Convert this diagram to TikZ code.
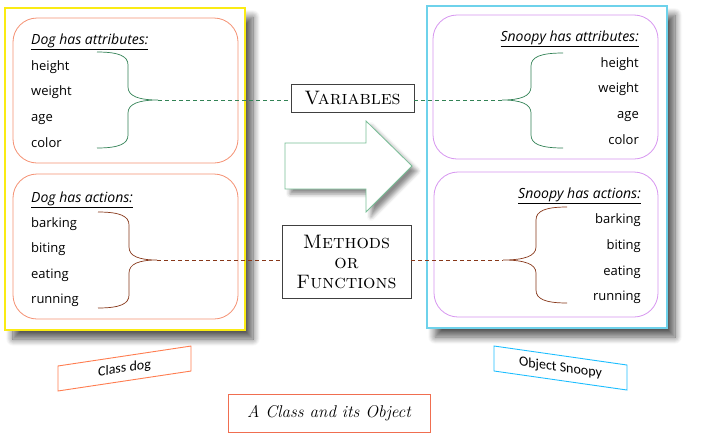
\documentclass[tikz,border=0pt]{standalone}
\usepackage{fontspec}
\newfontfamily\itemfont{Open Sans}
\newfontfamily\tagfont{Carlito}
\usetikzlibrary{shadows.blur}

\definecolor{classyellow}{RGB}{250,235,20}
\definecolor{objcyan}{RGB}{110,210,235}
\definecolor{dogorange}{RGB}{245,145,115}
\definecolor{snoopyviolet}{RGB}{215,150,240}
\definecolor{attrgreen}{RGB}{50,130,85}
\definecolor{actbrown}{RGB}{135,55,25}
\definecolor{arrowgreen}{RGB}{120,190,150}
\definecolor{tagorange}{RGB}{255,125,80}
\definecolor{tagcyan}{RGB}{30,190,255}
\definecolor{titleorange}{RGB}{240,110,80}

\tikzset{
  shadowed/.style={blur shadow={shadow xshift=8pt, shadow yshift=-9pt, shadow blur radius=7pt, shadow blur steps=10, shadow opacity=65}},
  bigframe/.style={draw, fill=white, line width=1.3pt, minimum width=240pt, minimum height=322pt, shadowed},
  listbox/.style={draw, rounded corners=24pt, line width=0.8pt, minimum width=225pt, minimum height=145pt},
  item/.style={inner sep=0pt, font=\itemfont\fontsize{13}{15}\selectfont},
  head/.style={inner sep=0pt, font=\itemfont\itshape\fontsize{14}{16}\selectfont},
  namebox/.style={draw=black!75, line width=0.8pt, fill=white, font=\fontsize{19.5}{22}\selectfont},
  tagbox/.style={draw, line width=0.9pt, minimum width=133pt, minimum height=25pt, inner sep=0pt, font=\tagfont\fontsize{14}{16}\selectfont},
  attrdash/.style={attrgreen, dash pattern=on 4pt off 3pt, line width=0.6pt},
  actdash/.style={actbrown, dash pattern=on 4pt off 3pt, line width=0.6pt},
}

% style, end x, bend x, tip x, top y, tip y, bottom y
\newcommand\curlybrace[7]{%
  \draw[#1] (#2,#5) .. controls ({#2+0.7*(#3-#2)},#5) and (#3,{#5+4}) .. (#3,{#5+13})
    -- (#3,{#6-13}) .. controls (#3,{#6-4}) and ({#3+0.35*(#4-#3)},#6) .. (#4,#6)
    .. controls ({#3+0.35*(#4-#3)},#6) and (#3,{#6+4}) .. (#3,{#6+13})
    -- (#3,{#7-13}) .. controls (#3,{#7-4}) and ({#2+0.7*(#3-#2)},#7) .. (#2,#7);}

\begin{document}
\begin{tikzpicture}[x=1pt,y=-1pt]
        \useasboundingbox (0,0) rectangle (708,434);

        %the class and the object
        \node[bigframe, draw=classyellow] (classframe) at (125,169) {};
        \node[bigframe, draw=objcyan] (objframe) at (547,167) {};

        %the big arrow between them
        \filldraw[draw=arrowgreen, fill=white, line width=0.8pt, blur shadow={shadow xshift=5pt, shadow yshift=-5pt, shadow blur radius=4pt, shadow opacity=45}] (285,143) -- (366,143) -- (366,121) -- (412,166) -- (366,212) -- (366,189) -- (285,189) -- cycle;

        %boxes of the class
        \node[listbox, draw=dogorange] (dogattr) at (125.5,90.5) {};
        \node[listbox, draw=dogorange] (dogact) at (125.5,246.5) {};

        %boxes of the object
        \node[listbox, draw=snoopyviolet, minimum height=144pt] (snoopyattr) at (545.5,87) {};
        \node[listbox, draw=snoopyviolet, minimum width=224pt] (snoopyact) at (546,244.5) {};

        %dog attributes and actions
        \node[head, anchor=base west] (doghead) at (31,44) {\underline{Dog has attributes:}};
        \foreach \attr/\yb in {height/70,weight/95.5,age/121,color/147}{
          \node[item, anchor=base west] (dog-\attr) at (31,\yb) {\attr};
        }
        \node[head, anchor=base west] (dogacthead) at (31,202) {\underline{Dog has actions:}};
        \foreach \act/\yb in {barking/227,biting/252,eating/278,running/303}{
          \node[item, anchor=base west] (dog-\act) at (31,\yb) {\act};
        }

        %snoopy attributes and actions
        \node[head, anchor=base east] (snoopyhead) at (639,41) {\underline{Snoopy has attributes:}};
        \foreach \attr/\yb in {height/67,weight/92,age/118,color/144}{
          \node[item, anchor=base east] (snoopy-\attr) at (639,\yb) {\attr};
        }
        \node[head, anchor=base east] (snoopyacthead) at (641,198) {\underline{Snoopy has actions:}};
        \foreach \act/\yb in {barking/223,biting/249,eating/275,running/300}{
          \node[item, anchor=base east] (snoopy-\act) at (641,\yb) {\act};
        }

        %braces
        \curlybrace{attrgreen, line width=0.7pt}{97}{128}{158}{52}{100}{148}
        \curlybrace{actbrown, line width=0.7pt}{98}{129}{157}{212}{260}{308}
        \curlybrace{attrgreen, line width=0.7pt}{563}{531}{502}{53}{100}{148}
        \curlybrace{actbrown, line width=0.7pt}{567}{536}{503}{207}{260}{303}
        \coordinate (dogattrtip) at (158,100);
        \coordinate (dogacttip) at (157,260);
        \coordinate (snoopyattrtip) at (502,100);
        \coordinate (snoopyacttip) at (503,260);

        %what they are called
        \node[namebox, minimum width=123pt, minimum height=28pt, inner sep=0pt] (vars) at (352.5,98) {\textsc{Variables}};
        \node[namebox, minimum width=129pt, minimum height=73pt, align=center, inner sep=0pt] (methods) at (346.5,261.5) {\textsc{Methods}\\[-2pt]\textsc{or}\\[-2pt]\textsc{Functions}};

        \draw[attrdash] (dogattrtip) -- (dogattrtip -| vars.west);
        \draw[attrdash] (vars.east |- snoopyattrtip) -- (snoopyattrtip);
        \draw[actdash] (dogacttip) -- (dogacttip -| methods.west);
        \draw[actdash] (methods.east |- snoopyacttip) -- (snoopyacttip);

        %tags and title
        \node[tagbox, draw=tagorange, yslant=0.15] (classtag) at (124.5,368.5) {Class dog};
        \node[tagbox, draw=tagcyan, yslant=-0.143] (objtag) at (560.5,368) {Object Snoopy};
        \node[draw=titleorange, line width=0.9pt, minimum width=202pt, minimum height=38pt, font=\itshape\fontsize{17}{20}\selectfont] (title) at (329,413) {A Class and its Object};
      \end{tikzpicture}
\end{document}
